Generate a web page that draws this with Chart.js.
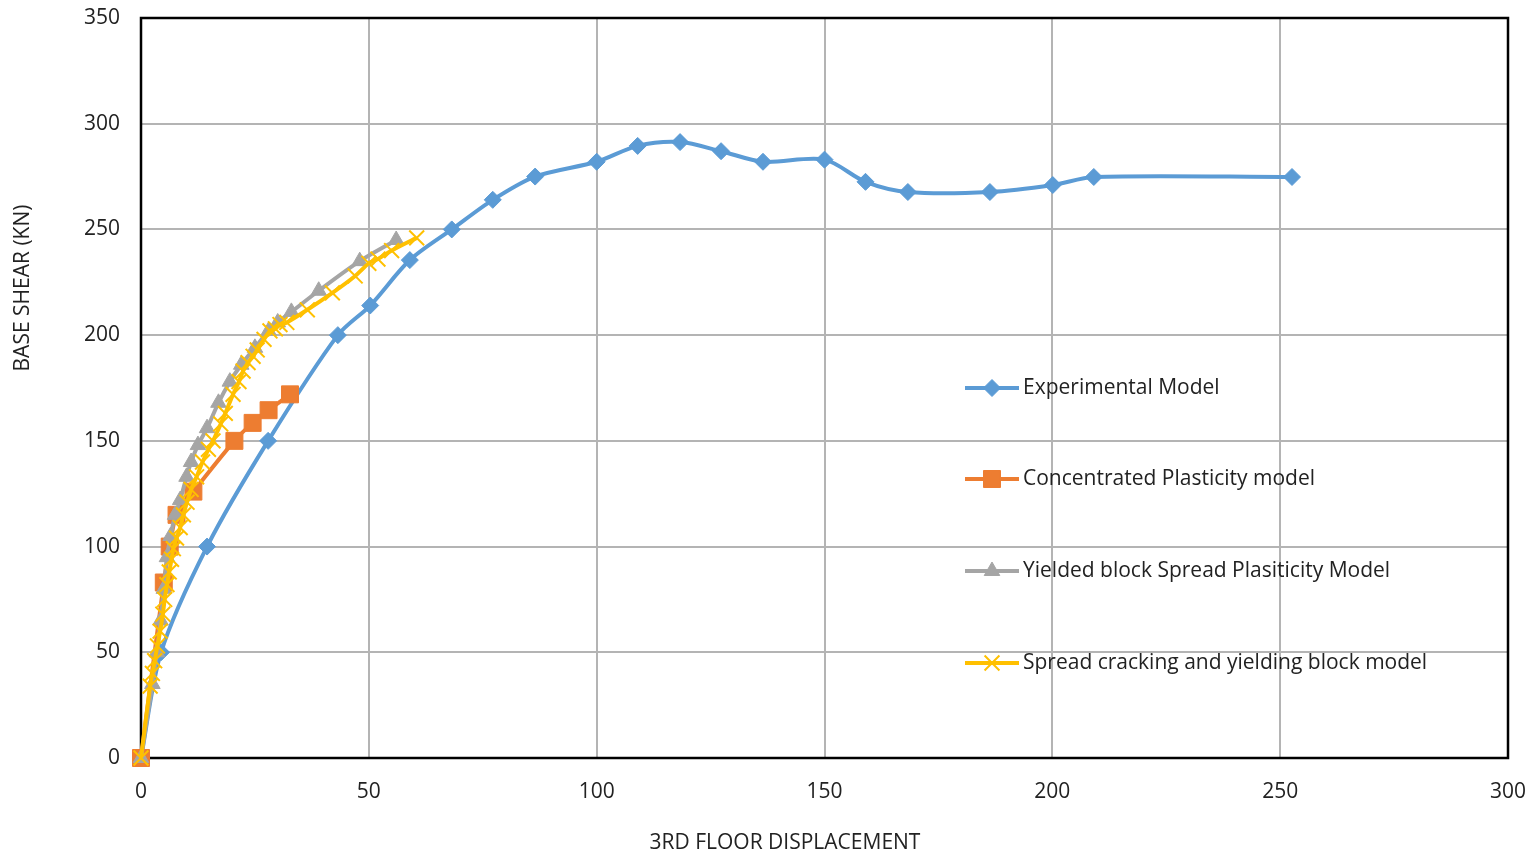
<!DOCTYPE html>
<html>
<head>
<meta charset="utf-8">
<script src="https://cdn.jsdelivr.net/npm/chart.js@4.4.1/dist/chart.umd.min.js"></script>
<style>
  html, body { margin: 0; padding: 0; background: #fff; }
  #wrap { width: 1535px; height: 857px; }
</style>
</head>
<body>
<div id="wrap"><canvas id="c" width="1535" height="857"></canvas></div>
<script>
// Pushover curves: base shear (kN) against 3rd floor displacement
const experimental = [
  [0, 0], [4.4, 50], [14.5, 100], [27.9, 150], [43.2, 200], [50.3, 214],
  [59, 235.5], [68.2, 250], [77.2, 264], [86.5, 275], [100, 282], [109, 289.5],
  [118.3, 291.3], [127.3, 287], [136.5, 282], [150, 283], [159, 272.5],
  [168.3, 267.7], [186.3, 267.7], [200.1, 271], [209.1, 274.8], [252.6, 274.8]
];
const concentrated = [
  [0, 0], [5, 83], [6.3, 100], [7.8, 115], [11.5, 126], [20.5, 150],
  [24.5, 158.5], [28, 164.5], [32.7, 172]
];
const yieldedBlock = [
  [0, 0], [2.5, 35], [3.5, 50], [4.3, 65], [5, 80], [5.7, 95], [6.5, 105],
  [7.5, 115], [8.6, 122], [10, 133], [11, 140], [12.5, 148], [14.5, 156],
  [17, 168], [19.5, 178], [22, 186], [25, 194], [28, 202], [30, 206],
  [33, 211], [39, 221], [48, 235], [56, 245]
];
const spreadCracking = [
  [0, 0], [2, 34], [2.5, 40], [3, 46], [3.6, 53], [4.2, 60], [4.8, 68],
  [5.2, 75], [5.7, 82], [6.2, 88], [6.7, 94], [7.1, 99], [7.8, 104],
  [8.6, 109], [9.3, 115], [10.1, 121], [11, 127], [12.2, 133], [13.5, 140],
  [14.8, 146], [15.8, 150], [17.5, 158], [18.5, 163], [20.2, 172],
  [21.5, 178], [22.4, 183], [23.5, 187], [24.6, 190], [25.5, 193], [27, 198],
  [28.3, 202], [29.5, 203], [30.5, 205], [32, 206], [36.5, 212], [42, 220],
  [47, 228], [50, 234], [52, 236], [55, 240], [60.5, 246]
];
const seriesNames = [
  'Experimental Model',
  'Concentrated Plasticity model',
  'Yielded block Spread Plasiticity Model',
  'Spread cracking and yielding block model'
];
const xTitle = '3RD FLOOR DISPLACEMENT';
const yTitle = 'BASE SHEAR (KN)';

const FONT = '"Open Sans", "Liberation Sans", sans-serif';
const toXY = arr => arr.map(([x, y]) => ({ x, y }));

function series(name, data, color, style, radius, order) {
  return {
    label: name,
    data: toXY(data),
    borderColor: color,
    backgroundColor: color,
    borderWidth: 4,
    pointStyle: style,
    pointRadius: radius,
    pointHoverRadius: radius,
    pointBorderColor: color,
    pointBackgroundColor: color,
    pointBorderWidth: style === 'crossRot' ? 2 : 1,
    tension: 0.3,
    showLine: true,
    fill: false,
    clip: false,
    order
  };
}

// Frame, axis titles and the in-plot legend
const decorations = {
  id: 'decorations',
  beforeDatasetsDraw(chart) {
    const { ctx, chartArea: a } = chart;
    ctx.save();
    ctx.strokeStyle = '#000';
    ctx.lineWidth = 2.5;
    ctx.strokeRect(a.left, a.top, a.right - a.left, a.bottom - a.top);
    ctx.restore();
  },
  afterDraw(chart) {
    const { ctx } = chart;
    ctx.save();
    ctx.fillStyle = '#222';
    ctx.font = '21px ' + FONT;
    ctx.textAlign = 'center';
    ctx.textBaseline = 'middle';
    ctx.fillText(xTitle, 785, 843);
    ctx.save();
    ctx.translate(23, 288);
    ctx.rotate(-Math.PI / 2);
    ctx.fillText(yTitle, 0, 0);
    ctx.restore();

    const rows = [388, 479, 571, 663];
    chart.data.datasets.forEach((ds, i) => {
      const y = rows[i];
      ctx.strokeStyle = ds.borderColor;
      ctx.lineWidth = 4;
      ctx.beginPath();
      ctx.moveTo(965, y);
      ctx.lineTo(1019, y);
      ctx.stroke();
      ctx.fillStyle = ds.borderColor;
      ctx.strokeStyle = ds.borderColor;
      ctx.lineWidth = ds.pointBorderWidth;
      Chart.helpers.drawPoint(ctx, {
        pointStyle: ds.pointStyle,
        radius: ds.pointRadius,
        rotation: 0,
        borderWidth: ds.pointBorderWidth
      }, 992, y);
      ctx.fillStyle = '#222';
      ctx.font = '21px ' + FONT;
      ctx.textAlign = 'left';
      ctx.textBaseline = 'middle';
      ctx.fillText(seriesNames[i], 1023, y);
    });
    ctx.restore();
  }
};

new Chart(document.getElementById('c'), {
  type: 'scatter',
  data: {
    datasets: [
      series(seriesNames[0], experimental, '#5B9BD5', 'rectRot', 8.5, 4),
      series(seriesNames[1], concentrated, '#ED7D31', 'rect', 12, 3),
      series(seriesNames[2], yieldedBlock, '#A5A5A5', 'triangle', 9, 2),
      series(seriesNames[3], spreadCracking, '#FFC000', 'crossRot', 10.5, 1)
    ]
  },
  options: {
    responsive: false,
    animation: false,
    layout: { padding: { top: 18, right: 27, left: 0, bottom: 0 } },
    plugins: { legend: { display: false }, tooltip: { enabled: false } },
    scales: {
      x: {
        type: 'linear', min: 0, max: 300,
        ticks: { stepSize: 50, padding: 21, color: '#222', font: { family: FONT, size: 21 } },
        grid: { color: '#B4B4B4', lineWidth: 2, drawTicks: false },
        border: { display: false },
        afterFit(s) { s.height = 99; s.paddingLeft = 0; s.paddingRight = 0; }
      },
      y: {
        type: 'linear', min: 0, max: 350,
        ticks: { stepSize: 50, padding: 21, color: '#222', font: { family: FONT, size: 21 } },
        grid: { color: '#B4B4B4', lineWidth: 2, drawTicks: false },
        border: { display: false },
        afterFit(s) { s.width = 141; s.paddingTop = 0; s.paddingBottom = 0; }
      }
    }
  },
  plugins: [decorations]
});
</script>
</body>
</html>
